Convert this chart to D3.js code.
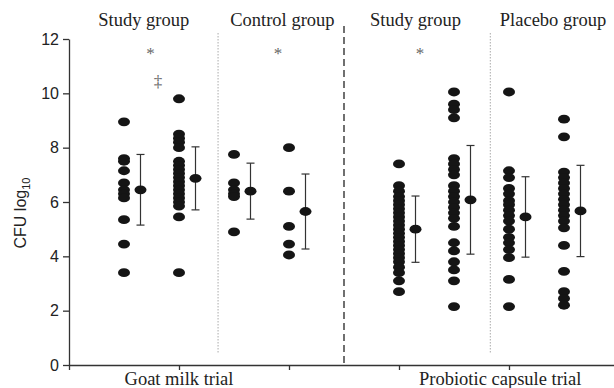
<!DOCTYPE html>
<html>
<head>
<meta charset="utf-8">
<script src="https://cdn.jsdelivr.net/npm/d3@7"></script>
<style>
  body { margin: 0; background: #fff; }
  svg { display: block; }
</style>
</head>
<body>
<div id="chart"></div>
<script>
// column positions on the x scale (0..5)
const columnPos = [0.5, 1.0, 1.5, 2.0, 3.0, 3.5, 4.0, 4.5];

// individual CFU log10 values per column
const goatStudyA = [8.95, 7.6, 7.5, 7.15, 6.7, 6.45, 6.3, 6.15, 5.35, 4.45, 3.4];
const goatStudyB = [9.8, 8.5, 8.35, 8.2, 8.0, 7.5, 7.35, 7.2, 7.05, 6.9, 6.75, 6.6, 6.45, 6.3, 6.15, 6.0, 5.85, 5.45, 3.4];
const goatControlA = [7.75, 6.7, 6.45, 6.3, 6.2, 4.9];
const goatControlB = [8.0, 6.4, 5.1, 4.45, 4.05];
const probStudyA = [7.4, 6.6, 6.4, 6.2, 6.05, 5.9, 5.75, 5.6, 5.45, 5.3, 5.15, 5.0, 4.85, 4.7, 4.55, 4.4, 4.25, 4.1, 3.95, 3.8, 3.6, 3.4, 3.1, 2.7];
const probStudyB = [10.05, 9.6, 9.4, 9.1, 7.6, 7.4, 7.2, 7.0, 6.6, 6.4, 6.2, 6.0, 5.8, 5.6, 5.4, 5.1, 4.5, 4.2, 3.8, 3.5, 3.1, 2.15];
const placeboA = [10.05, 7.15, 6.9, 6.5, 6.3, 6.05, 5.9, 5.7, 5.5, 5.3, 5.0, 4.7, 4.5, 4.25, 3.95, 3.15, 2.15];
const placeboB = [9.05, 8.4, 7.1, 6.9, 6.7, 6.5, 6.3, 6.1, 5.9, 5.7, 5.5, 5.3, 5.05, 4.4, 3.45, 2.7, 2.45, 2.2];

const columnValues = [goatStudyA, goatStudyB, goatControlA, goatControlB, probStudyA, probStudyB, placeboA, placeboB];

// mean and SD drawn beside each column
const means = [6.45, 6.87, 6.4, 5.65, 5.0, 6.08, 5.45, 5.67];
const sds   = [1.3, 1.16, 1.03, 1.38, 1.22, 2.0, 1.48, 1.68];

const groupLabels = ['Study group', 'Control group', 'Study group', 'Placebo group'];
const groupLabelPos = [0.68, 1.94, 3.15, 4.4];
const trialLabels = ['Goat milk trial', 'Probiotic capsule trial'];
const trialLabelPos = [1.0, 3.92];
const yTicks = [0, 2, 4, 6, 8, 10, 12];

const width = 614, height = 388;

const svg = d3.select('#chart')
  .append('svg')
  .attr('width', width)
  .attr('height', height);

const x = d3.scaleLinear().domain([0, 5]).range([69, 619]);
const y = d3.scaleLinear().domain([0, 12]).range([365, 39]);

const axisColor = '#333';
const dotColor = '#151515';
const serif = '"Liberation Serif", "Times New Roman", serif';
const sans = '"Liberation Sans", Arial, sans-serif';

// separators
svg.append('line')
  .attr('x1', x(1.355)).attr('x2', x(1.355))
  .attr('y1', 33).attr('y2', 353)
  .attr('stroke', '#aaa').attr('stroke-width', 1)
  .attr('stroke-dasharray', '1.5,1.5');

svg.append('line')
  .attr('x1', x(3.83)).attr('x2', x(3.83))
  .attr('y1', 33).attr('y2', 353)
  .attr('stroke', '#aaa').attr('stroke-width', 1)
  .attr('stroke-dasharray', '1.5,1.5');

svg.append('line')
  .attr('x1', x(2.5)).attr('x2', x(2.5))
  .attr('y1', 26).attr('y2', 365)
  .attr('stroke', '#111').attr('stroke-width', 1.2)
  .attr('stroke-dasharray', '7,4');

// y axis
const yAxis = svg.append('g')
  .attr('transform', 'translate(' + x(0) + ',0)')
  .call(d3.axisLeft(y).tickValues(yTicks).tickSize(6).tickSizeOuter(0).tickPadding(4));
yAxis.select('.domain').attr('stroke', axisColor).attr('stroke-width', 1.3);
yAxis.selectAll('.tick line').attr('stroke', axisColor).attr('stroke-width', 1.3);
yAxis.selectAll('.tick text')
  .attr('fill', '#222')
  .style('font-family', sans)
  .style('font-size', '16px');

// x axis
const xAxis = svg.append('g')
  .attr('transform', 'translate(0,' + y(0) + ')')
  .call(d3.axisBottom(x).tickValues([0, 1, 2, 3, 4]).tickFormat('').tickSize(5).tickSizeOuter(0));
xAxis.select('.domain').attr('stroke', axisColor).attr('stroke-width', 1.3);
xAxis.selectAll('.tick line').attr('stroke', axisColor).attr('stroke-width', 1.3);

// y label
const yLab = svg.append('text')
  .attr('transform', 'translate(26,' + 213 + ') rotate(-90)')
  .attr('text-anchor', 'middle')
  .attr('fill', '#222')
  .style('font-family', sans)
  .style('font-size', '16px');
yLab.append('tspan').text('CFU log');
yLab.append('tspan').attr('dy', 4).style('font-size', '11px').text('10');

// group labels on top
svg.selectAll('.group-label')
  .data(groupLabels)
  .enter().append('text')
  .attr('class', 'group-label')
  .attr('x', (d, i) => x(groupLabelPos[i]))
  .attr('y', 26)
  .attr('text-anchor', 'middle')
  .attr('fill', '#222')
  .style('font-family', serif)
  .style('font-size', '18.5px')
  .text(d => d);

// trial labels at bottom
svg.selectAll('.trial-label')
  .data(trialLabels)
  .enter().append('text')
  .attr('class', 'trial-label')
  .attr('x', (d, i) => x(trialLabelPos[i]))
  .attr('y', 385)
  .attr('text-anchor', 'middle')
  .attr('fill', '#222')
  .style('font-family', serif)
  .style('font-size', '18.5px')
  .text(d => d);

// significance marks
const marks = [
  { pos: 0.74, v: 11.25, t: '*' },
  { pos: 1.9, v: 11.25, t: '*' },
  { pos: 3.19, v: 11.25, t: '*' },
  { pos: 0.81, v: 10.25, t: '‡' }
];
svg.selectAll('.mark')
  .data(marks)
  .enter().append('text')
  .attr('x', d => x(d.pos))
  .attr('y', d => y(d.v))
  .attr('text-anchor', 'middle')
  .attr('fill', '#666')
  .style('font-family', serif)
  .style('font-size', '17px')
  .text(d => d.t);

// dots
const dots = [];
columnValues.forEach((vals, i) => vals.forEach(v => dots.push({ pos: columnPos[i], v: v })));

svg.selectAll('.dot')
  .data(dots)
  .enter().append('ellipse')
  .attr('class', 'dot')
  .attr('cx', d => x(d.pos))
  .attr('cy', d => y(d.v))
  .attr('rx', 6)
  .attr('ry', 4.4)
  .attr('fill', dotColor);

// mean +/- SD
const stats = means.map((m, i) => ({ pos: columnPos[i] + 0.15, m: m, sd: sds[i] }));
const capW = 4;

svg.selectAll('.sd-line')
  .data(stats)
  .enter().append('line')
  .attr('x1', d => x(d.pos)).attr('x2', d => x(d.pos))
  .attr('y1', d => y(d.m + d.sd)).attr('y2', d => y(d.m - d.sd))
  .attr('stroke', '#333').attr('stroke-width', 1.2);

svg.selectAll('.cap-top')
  .data(stats)
  .enter().append('line')
  .attr('x1', d => x(d.pos) - capW).attr('x2', d => x(d.pos) + capW)
  .attr('y1', d => y(d.m + d.sd)).attr('y2', d => y(d.m + d.sd))
  .attr('stroke', '#333').attr('stroke-width', 1.2);

svg.selectAll('.cap-bottom')
  .data(stats)
  .enter().append('line')
  .attr('x1', d => x(d.pos) - capW).attr('x2', d => x(d.pos) + capW)
  .attr('y1', d => y(d.m - d.sd)).attr('y2', d => y(d.m - d.sd))
  .attr('stroke', '#333').attr('stroke-width', 1.2);

svg.selectAll('.mean')
  .data(stats)
  .enter().append('ellipse')
  .attr('cx', d => x(d.pos))
  .attr('cy', d => y(d.m))
  .attr('rx', 6)
  .attr('ry', 4.4)
  .attr('fill', dotColor);
</script>
</body>
</html>
